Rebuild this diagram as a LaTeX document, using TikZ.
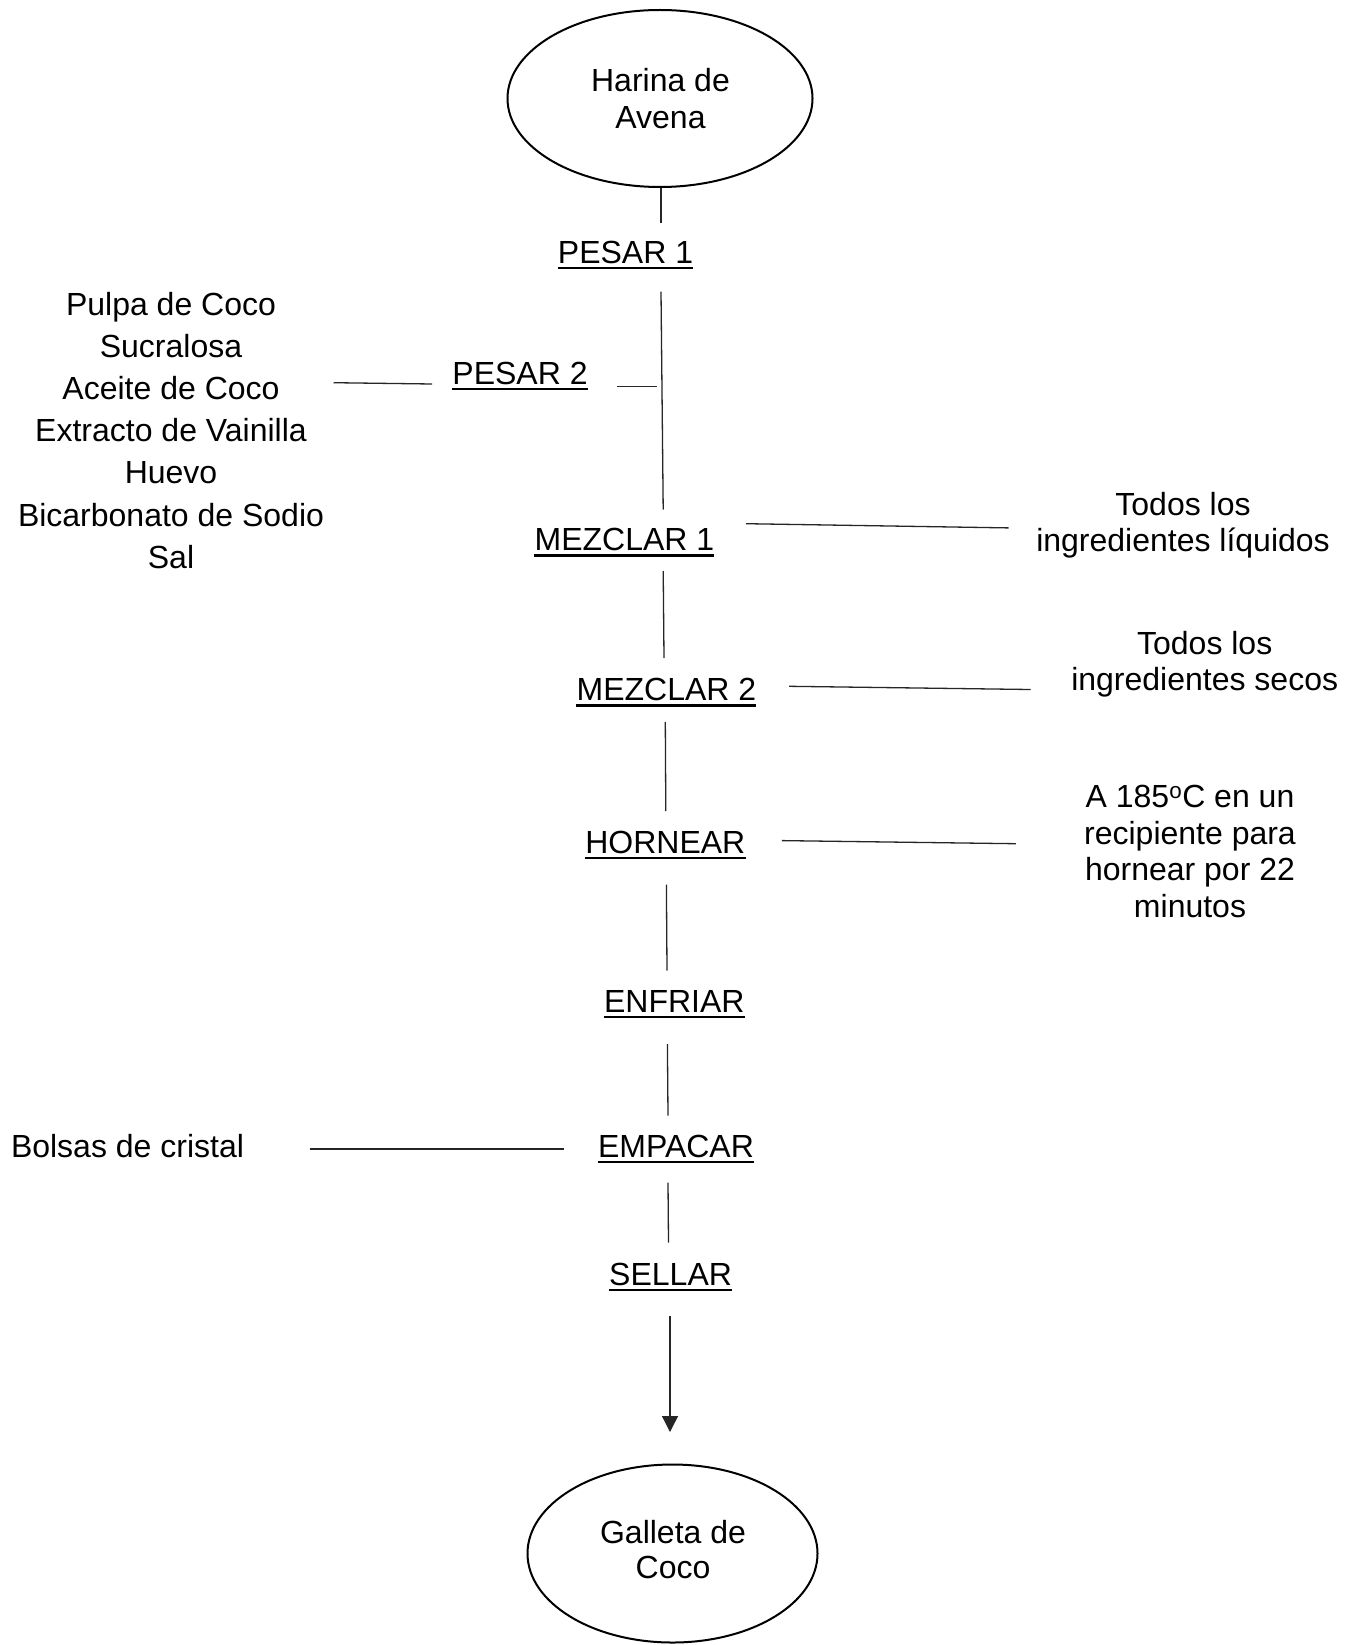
\documentclass[tikz,border=0pt]{standalone}
\usepackage{fontspec}
\setmainfont{Liberation Sans}
\usetikzlibrary{shapes.geometric,arrows.meta}
\begin{document}
\begin{tikzpicture}[x=1pt,y=-1pt,
  txt/.style={inner sep=0pt,anchor=base,font=\fontsize{32}{36.7}\selectfont},
  conn/.style={line width=1.3pt,black!85},
  uline/.style={line width=2.4pt},
  oval/.style={ellipse,draw,line width=2pt,inner sep=0pt}]
\useasboundingbox (0,0) rectangle (1359,1645);
\fill[white] (0,0) rectangle (1359,1645);

% ovals
\node[oval,minimum width=305pt,minimum height=177pt] (top) at (660,98.5) {};
\node[txt] (topT) at (660.5,91.7) {\begin{tabular}[t]{@{}c@{}}Harina de\\Avena\end{tabular}};
\node[oval,minimum width=290pt,minimum height=178pt] (bot) at (672.5,1553.5) {};
\node[txt] (botT) at (673,1543.3) {\fontsize{32}{35}\selectfont\begin{tabular}[t]{@{}c@{}}Galleta de\\Coco\end{tabular}};

% steps
\node[txt] (p1) at (625.5,263) {PESAR 1};
\node[txt] (p2) at (520,384) {PESAR 2};
\node[txt] (m1) at (624.4,550.5) {MEZCLAR 1};
\node[txt] (m2) at (666.4,700.5) {MEZCLAR 2};
\node[txt] (h) at (665.3,853) {HORNEAR};
\node[txt] (en) at (674.3,1012) {ENFRIAR};
\node[txt] (em) at (676,1157) {EMPACAR};
\node[txt] (se) at (670.6,1285) {SELLAR};
\foreach \n in {p1,p2,m1,m2,h,en,em,se}
  \draw[uline] ([yshift=-5pt]\n.base west) -- ([yshift=-5pt]\n.base east);

% side labels
\node[txt] (ing) at (171,315) {\fontsize{32}{42.2}\selectfont\begin{tabular}[t]{@{}c@{}}Pulpa de Coco\\Sucralosa\\Aceite de Coco\\Extracto de Vainilla\\Huevo\\Bicarbonato de Sodio\\Sal\end{tabular}};
\node[txt] (liq) at (1183,515) {\begin{tabular}[t]{@{}c@{}}Todos los\\ingredientes líquidos\end{tabular}};
\node[txt] (sec) at (1204.7,654) {\begin{tabular}[t]{@{}c@{}}Todos los\\ingredientes secos\end{tabular}};
\node[txt] (hc) at (1190,807.5) {\fontsize{32}{36.5}\selectfont\begin{tabular}[t]{@{}c@{}}A 185\textsuperscript{o}C en un\\recipiente para\\hornear por 22\\minutos\end{tabular}};
\node[txt] (bol) at (127.5,1157) {Bolsas de cristal};

% connectors
\coordinate (a1) at (661,222.7);
\draw[conn] (a1 |- top.south) -- (a1);
\coordinate (s1) at (661,291.7); \coordinate (s2) at (663.2,509.5);
\draw[conn] (s1) -- (s2);
\coordinate (ingR) at (333.5,382.7); \coordinate (p2L) at (432,384);
\draw[conn] (ingR) -- (p2L);
\coordinate (p2R) at (617.4,386.7); \coordinate (sp) at (657,386.7);
\draw[conn] (p2R) -- (sp);
\coordinate (m1R) at (746,523.7); \coordinate (liqL) at (1008.5,527.9);
\draw[conn] (m1R) -- (liqL);
\coordinate (b1) at (663.2,571); \coordinate (b2) at (664,658);
\draw[conn] (b1) -- (b2);
\coordinate (m2R) at (789,686.3); \coordinate (secL) at (1030.5,689.5);
\draw[conn] (m2R) -- (secL);
\coordinate (c1) at (665.3,722); \coordinate (c2) at (665.8,811);
\draw[conn] (c1) -- (c2);
\coordinate (hR) at (781.8,840.6); \coordinate (hcL) at (1015.8,843.7);
\draw[conn] (hR) -- (hcL);
\coordinate (d1) at (666.4,884.6); \coordinate (d2) at (667,970.7);
\draw[conn] (d1) -- (d2);
\coordinate (e1) at (667.4,1044); \coordinate (e2) at (668,1115.5);
\draw[conn] (e1) -- (e2);
\coordinate (bolR) at (309.5,1149); \coordinate (emL) at (563.7,1149);
\draw[conn] (bolR) -- (emL);
\coordinate (f1) at (668,1182.7); \coordinate (f2) at (668.5,1242.5);
\draw[conn] (f1) -- (f2);
\coordinate (g1) at (670,1316); \coordinate (g2) at (670,1432);
\draw[conn,-{Triangle[width=16pt,length=16pt]}] (g1) -- (g2);
\end{tikzpicture}
\end{document}
